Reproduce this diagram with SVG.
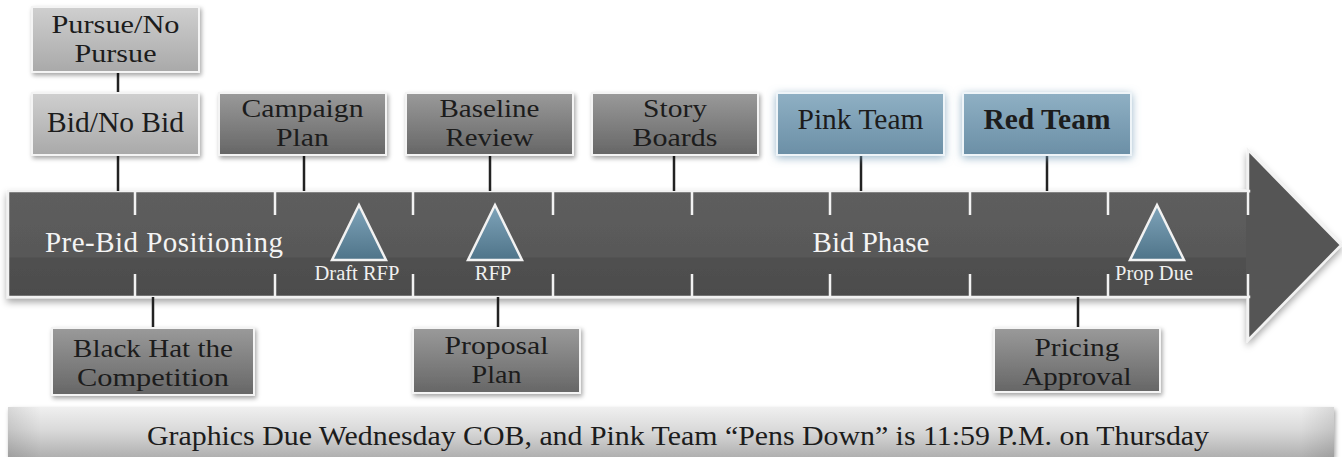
<svg xmlns="http://www.w3.org/2000/svg" width="1342" height="457" viewBox="0 0 1342 457" font-family="'Liberation Serif', 'Times New Roman', Times, serif">
  <style>
    text { font-family: 'Liberation Serif', 'Times New Roman', Times, serif; }
    .lbl { fill: #1c1c1c; text-anchor: middle; }
    .box-txt { font-size: 29.5px; }
    .two { font-size: 26px; }
    .band-txt { fill: #f4f4f4; font-size: 29px; }
    .ms-txt { fill: #f0f0f0; font-size: 20.5px; text-anchor: middle; }
    .light { fill: url(#gLight); stroke: #f4f4f4; stroke-width: 2; filter: url(#shadow); }
    .dark { fill: url(#gDark); stroke: #f4f4f4; stroke-width: 2; filter: url(#shadow); }
    .blue { fill: url(#gBlue); stroke: #eef4f8; stroke-width: 2; filter: url(#glow); }
    .conn line { stroke: #222; stroke-width: 2.5; }
    .tick { stroke: #f2f2f2; stroke-width: 2.5; }
    .ms { fill: url(#gTri); stroke: #f2f2f2; stroke-width: 2.5; stroke-linejoin: miter; }
  </style>
  <defs>
    <linearGradient id="gLight" x1="0" y1="0" x2="0" y2="1">
      <stop offset="0" stop-color="#cfcfcf"/>
      <stop offset="1" stop-color="#a9a9a9"/>
    </linearGradient>
    <linearGradient id="gDark" x1="0" y1="0" x2="0" y2="1">
      <stop offset="0" stop-color="#9a9a9a"/>
      <stop offset="1" stop-color="#666666"/>
    </linearGradient>
    <linearGradient id="gBlue" x1="0" y1="0" x2="0" y2="1">
      <stop offset="0" stop-color="#8fb0c4"/>
      <stop offset="1" stop-color="#6b8fa6"/>
    </linearGradient>
    <linearGradient id="gTri" x1="0" y1="0" x2="0" y2="1">
      <stop offset="0" stop-color="#7fa4ba"/>
      <stop offset="1" stop-color="#4f7489"/>
    </linearGradient>
    <linearGradient id="gBand" x1="0" y1="0" x2="0" y2="1">
      <stop offset="0" stop-color="#5e5e5e"/>
      <stop offset="0.62" stop-color="#585858"/>
      <stop offset="0.63" stop-color="#505050"/>
      <stop offset="1" stop-color="#4c4c4c"/>
    </linearGradient>
    <linearGradient id="gBanner" x1="0" y1="0" x2="0" y2="1">
      <stop offset="0" stop-color="#f0f0f0"/>
      <stop offset="0.45" stop-color="#dadada"/>
      <stop offset="1" stop-color="#b0b0b0"/>
    </linearGradient>
    <linearGradient id="gBannerEdge" x1="0" y1="0" x2="1" y2="0">
      <stop offset="0" stop-color="#000" stop-opacity="0.1"/>
      <stop offset="0.025" stop-color="#000" stop-opacity="0"/>
      <stop offset="0.975" stop-color="#000" stop-opacity="0"/>
      <stop offset="1" stop-color="#000" stop-opacity="0.1"/>
    </linearGradient>
    <filter id="shadow" x="-10%" y="-20%" width="125%" height="150%">
      <feDropShadow dx="1.5" dy="2.5" stdDeviation="2" flood-color="#000" flood-opacity="0.35"/>
    </filter>
    <filter id="glow" x="-15%" y="-30%" width="130%" height="160%">
      <feDropShadow dx="0" dy="2" stdDeviation="4" flood-color="#6f98b4" flood-opacity="0.7"/>
    </filter>
    <filter id="bandShadow" x="-5%" y="-10%" width="110%" height="130%">
      <feDropShadow dx="0" dy="4" stdDeviation="3.5" flood-color="#000" flood-opacity="0.35"/>
    </filter>
  </defs>

  <rect width="1342" height="457" fill="#ffffff"/>

  <!-- timeline arrow -->
  <g id="timeline">
    <g filter="url(#bandShadow)">
      <polygon points="1248,150 1341,245 1248,340" fill="#555555" stroke="#f2f2f2" stroke-width="2.5"/>
      <rect x="8" y="191" width="1241" height="106" fill="url(#gBand)" stroke="#f2f2f2" stroke-width="2.5"/>
      <rect x="1246" y="192.5" width="6" height="103" fill="#555555"/>
    </g>
    <!-- segment ticks -->
    <g class="tick">
      <line x1="135" y1="191" x2="135" y2="215"/><line x1="135" y1="274" x2="135" y2="297"/>
      <line x1="275" y1="191" x2="275" y2="215"/><line x1="275" y1="274" x2="275" y2="297"/>
      <line x1="413" y1="191" x2="413" y2="215"/><line x1="413" y1="274" x2="413" y2="297"/>
      <line x1="553" y1="191" x2="553" y2="215"/><line x1="553" y1="274" x2="553" y2="297"/>
      <line x1="692" y1="191" x2="692" y2="215"/><line x1="692" y1="274" x2="692" y2="297"/>
      <line x1="830" y1="191" x2="830" y2="215"/><line x1="830" y1="274" x2="830" y2="297"/>
      <line x1="970" y1="191" x2="970" y2="215"/><line x1="970" y1="274" x2="970" y2="297"/>
      <line x1="1108" y1="191" x2="1108" y2="215"/><line x1="1108" y1="274" x2="1108" y2="297"/>
      <line x1="1248" y1="191" x2="1248" y2="215"/><line x1="1248" y1="274" x2="1248" y2="297"/>
    </g>
    <text class="band-txt" x="45" y="252" textLength="238">Pre-Bid Positioning</text>
    <text class="band-txt" x="871" y="252" text-anchor="middle">Bid Phase</text>
  </g>

  <!-- milestones -->
  <g id="ms-draft-rfp">
    <polygon class="ms" points="359,205 386,260 332,260"/>
    <text class="ms-txt" x="357" y="280">Draft RFP</text>
  </g>
  <g id="ms-rfp">
    <polygon class="ms" points="495,205 522,260 468,260"/>
    <text class="ms-txt" x="493" y="280">RFP</text>
  </g>
  <g id="ms-prop-due">
    <polygon class="ms" points="1157,205 1184,260 1130,260"/>
    <text class="ms-txt" x="1154" y="280">Prop Due</text>
  </g>

  <!-- connectors -->
  <g id="connectors" class="conn">
    <line x1="118" y1="72" x2="118" y2="93"/>
    <line x1="118" y1="155" x2="118" y2="191"/>
    <line x1="304" y1="155" x2="304" y2="191"/>
    <line x1="490" y1="155" x2="490" y2="191"/>
    <line x1="674" y1="155" x2="674" y2="191"/>
    <line x1="861" y1="155" x2="861" y2="191"/>
    <line x1="1047" y1="155" x2="1047" y2="191"/>
    <line x1="153" y1="297" x2="153" y2="328"/>
    <line x1="498" y1="297" x2="498" y2="328"/>
    <line x1="1078" y1="297" x2="1078" y2="328"/>
  </g>

  <!-- upper activity boxes -->
  <g id="pursue">
    <rect class="light" x="32" y="7" width="167" height="65"/>
    <text class="lbl two" x="115.5" y="33" textLength="128" lengthAdjust="spacingAndGlyphs">Pursue/No</text>
    <text class="lbl two" x="115.5" y="62" textLength="82" lengthAdjust="spacingAndGlyphs">Pursue</text>
  </g>
  <g id="bid">
    <rect class="light" x="32" y="93" width="167" height="62"/>
    <text class="lbl box-txt" x="115.5" y="132">Bid/No Bid</text>
  </g>
  <g id="campaign">
    <rect class="dark" x="219" y="93" width="167" height="62"/>
    <text class="lbl two" x="302.5" y="117" textLength="122" lengthAdjust="spacingAndGlyphs">Campaign</text>
    <text class="lbl two" x="302.5" y="146" textLength="53" lengthAdjust="spacingAndGlyphs">Plan</text>
  </g>
  <g id="baseline">
    <rect class="dark" x="406" y="93" width="167" height="62"/>
    <text class="lbl two" x="489.5" y="117" textLength="100" lengthAdjust="spacingAndGlyphs">Baseline</text>
    <text class="lbl two" x="489.5" y="146" textLength="88" lengthAdjust="spacingAndGlyphs">Review</text>
  </g>
  <g id="story">
    <rect class="dark" x="592" y="93" width="166" height="62"/>
    <text class="lbl two" x="675" y="117" textLength="64" lengthAdjust="spacingAndGlyphs">Story</text>
    <text class="lbl two" x="675" y="146" textLength="85" lengthAdjust="spacingAndGlyphs">Boards</text>
  </g>
  <g id="pink">
    <rect class="blue" x="777" y="93" width="167" height="62"/>
    <text class="lbl box-txt" x="860.5" y="129">Pink Team</text>
  </g>
  <g id="red">
    <rect class="blue" x="963" y="93" width="168" height="62"/>
    <text class="lbl box-txt" x="1047" y="129" font-weight="bold">Red Team</text>
  </g>

  <!-- lower activity boxes -->
  <g id="blackhat">
    <rect class="dark" x="52" y="328" width="202" height="67"/>
    <text class="lbl two" x="153" y="357" textLength="160" lengthAdjust="spacingAndGlyphs">Black Hat the</text>
    <text class="lbl two" x="153" y="386" textLength="152" lengthAdjust="spacingAndGlyphs">Competition</text>
  </g>
  <g id="proposal">
    <rect class="dark" x="413" y="328" width="167" height="65"/>
    <text class="lbl two" x="496.5" y="354" textLength="104" lengthAdjust="spacingAndGlyphs">Proposal</text>
    <text class="lbl two" x="496.5" y="383" textLength="50" lengthAdjust="spacingAndGlyphs">Plan</text>
  </g>
  <g id="pricing">
    <rect class="dark" x="994" y="328" width="166" height="64"/>
    <text class="lbl two" x="1077" y="356" textLength="85" lengthAdjust="spacingAndGlyphs">Pricing</text>
    <text class="lbl two" x="1077" y="385" textLength="109" lengthAdjust="spacingAndGlyphs">Approval</text>
  </g>

  <!-- deadline banner -->
  <g id="banner">
    <rect x="8" y="407" width="1326" height="50" fill="url(#gBanner)" filter="url(#shadow)"/>
    <rect x="8" y="407" width="1326" height="50" fill="url(#gBannerEdge)"/>
    <text class="lbl" x="678" y="445" font-size="27" textLength="1062" lengthAdjust="spacingAndGlyphs">Graphics Due Wednesday COB, and Pink Team “Pens Down” is 11:59 P.M. on Thursday</text>
  </g>
</svg>
